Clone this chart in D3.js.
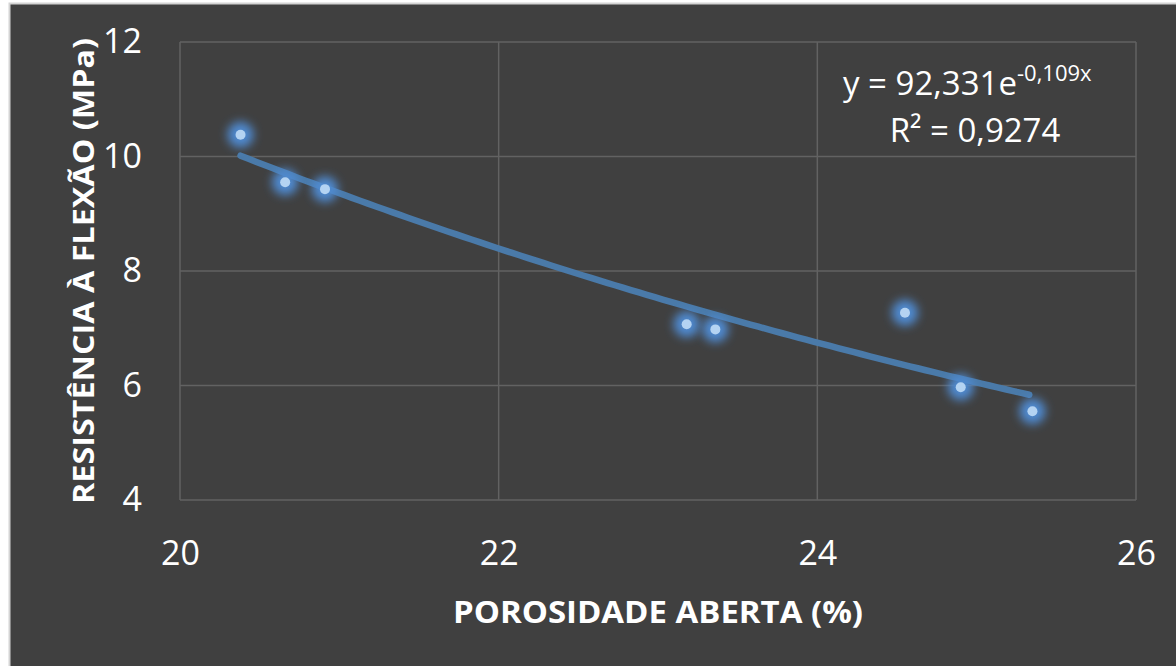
<!DOCTYPE html>
<html>
<head>
<meta charset="utf-8">
<script src="https://cdn.jsdelivr.net/npm/d3@7"></script>
<style>
  body { margin:0; background:#fff; }
  text { font-family:"Open Sans", "Noto Sans", sans-serif; fill:#fff; }
</style>
</head>
<body>
<div id="plot"></div>
<script>
// data
var porosidade = [20.38, 20.66, 20.91, 23.18, 23.36, 24.55, 24.90, 25.35];
var resistencia = [10.38, 9.55, 9.43, 7.07, 6.98, 7.27, 5.97, 5.55];
var xTicks = [20, 22, 24, 26];
var yTicks = [4, 6, 8, 10, 12];
// exponential trendline y = a * e^(b x)
var trendA = 92.331, trendB = -0.109;

var W = 1176, H = 666;
var plotBox = {l:180, r:1136, t:42, b:500};

var svg = d3.select('#plot').append('svg')
    .attr('width', W)
    .attr('height', H);

var defs = svg.append('defs');
defs.append('filter')
    .attr('id', 'glow')
    .attr('x', '-100%').attr('y', '-100%')
    .attr('width', '300%').attr('height', '300%')
  .append('feGaussianBlur')
    .attr('stdDeviation', 5);

// chart background + frame
svg.append('rect')
    .attr('x', 9.5).attr('y', 3.5)
    .attr('width', W).attr('height', H)
    .attr('fill', '#404040')
    .attr('stroke', '#d4d4d4')
    .attr('stroke-width', 2);

var x = d3.scaleLinear().domain([20, 26]).range([plotBox.l, plotBox.r]);
var y = d3.scaleLinear().domain([4, 12]).range([plotBox.b, plotBox.t]);

// grid
svg.append('g').selectAll('line')
    .data(xTicks).enter().append('line')
    .attr('x1', function(d){ return x(d); })
    .attr('x2', function(d){ return x(d); })
    .attr('y1', plotBox.t).attr('y2', plotBox.b)
    .attr('stroke', '#626262').attr('stroke-width', 1.5);

svg.append('g').selectAll('line')
    .data(yTicks).enter().append('line')
    .attr('x1', plotBox.l).attr('x2', plotBox.r)
    .attr('y1', function(d){ return y(d); })
    .attr('y2', function(d){ return y(d); })
    .attr('stroke', '#626262').attr('stroke-width', 1.5);

// axes (labels only)
var xAxis = svg.append('g')
    .attr('transform', 'translate(0,' + (plotBox.b + 38) + ')')
    .call(d3.axisBottom(x).tickValues(xTicks).tickSize(0).tickFormat(d3.format('d')));
var yAxis = svg.append('g')
    .attr('transform', 'translate(' + (plotBox.l - 35) + ',0)')
    .call(d3.axisLeft(y).tickValues(yTicks).tickSize(0).tickFormat(d3.format('d')));

[xAxis, yAxis].forEach(function(a){
    a.select('.domain').remove();
    a.selectAll('text')
        .attr('fill', '#fff')
        .style('font-family', '"Open Sans", sans-serif')
        .style('font-size', '34px');
});

// trendline
var xs = d3.range(porosidade[0], d3.max(porosidade) + 0.001, 0.05);
var line = d3.line()
    .x(function(d){ return x(d); })
    .y(function(d){ return y(trendA * Math.exp(trendB * d)); });
svg.append('path')
    .datum(xs)
    .attr('d', line)
    .attr('fill', 'none')
    .attr('stroke', '#4a7aa9')
    .attr('stroke-width', 6.5)
    .attr('stroke-linecap', 'round');

// points: glow then dot
var pts = porosidade.map(function(p, i){ return {x:p, y:resistencia[i]}; });
svg.append('g').selectAll('circle')
    .data(pts).enter().append('circle')
    .attr('cx', function(d){ return x(d.x); })
    .attr('cy', function(d){ return y(d.y); })
    .attr('r', 13)
    .attr('fill', '#4f8ad0')
    .attr('opacity', 1)
    .attr('filter', 'url(#glow)');
svg.append('g').selectAll('circle')
    .data(pts).enter().append('circle')
    .attr('cx', function(d){ return x(d.x); })
    .attr('cy', function(d){ return y(d.y); })
    .attr('r', 5)
    .attr('fill', '#b4d3f2');

// equation
var eq = svg.append('text')
    .attr('x', 843).attr('y', 95)
    .style('font-size', '33px');
eq.append('tspan').text('y = 92,331e');
eq.append('tspan')
    .attr('dy', -14)
    .style('font-size', '22px')
    .text('-0,109x');
svg.append('text')
    .attr('x', 975).attr('y', 142)
    .attr('text-anchor', 'middle')
    .style('font-size', '33px')
    .text('R² = 0,9274');

// axis titles
svg.append('text')
    .attr('x', (plotBox.l + plotBox.r) / 2)
    .attr('y', 623)
    .attr('text-anchor', 'middle')
    .attr('textLength', 410)
    .attr('lengthAdjust', 'spacingAndGlyphs')
    .style('font-size', '31px')
    .style('font-weight', 'bold')
    .text('POROSIDADE ABERTA (%)');

svg.append('text')
    .attr('transform', 'translate(94,' + ((plotBox.t + plotBox.b) / 2) + ') rotate(-90)')
    .attr('text-anchor', 'middle')
    .attr('textLength', 466)
    .attr('lengthAdjust', 'spacingAndGlyphs')
    .style('font-size', '29px')
    .style('font-weight', 'bold')
    .text('RESISTÊNCIA À FLEXÃO (MPa)');
</script>
</body>
</html>
